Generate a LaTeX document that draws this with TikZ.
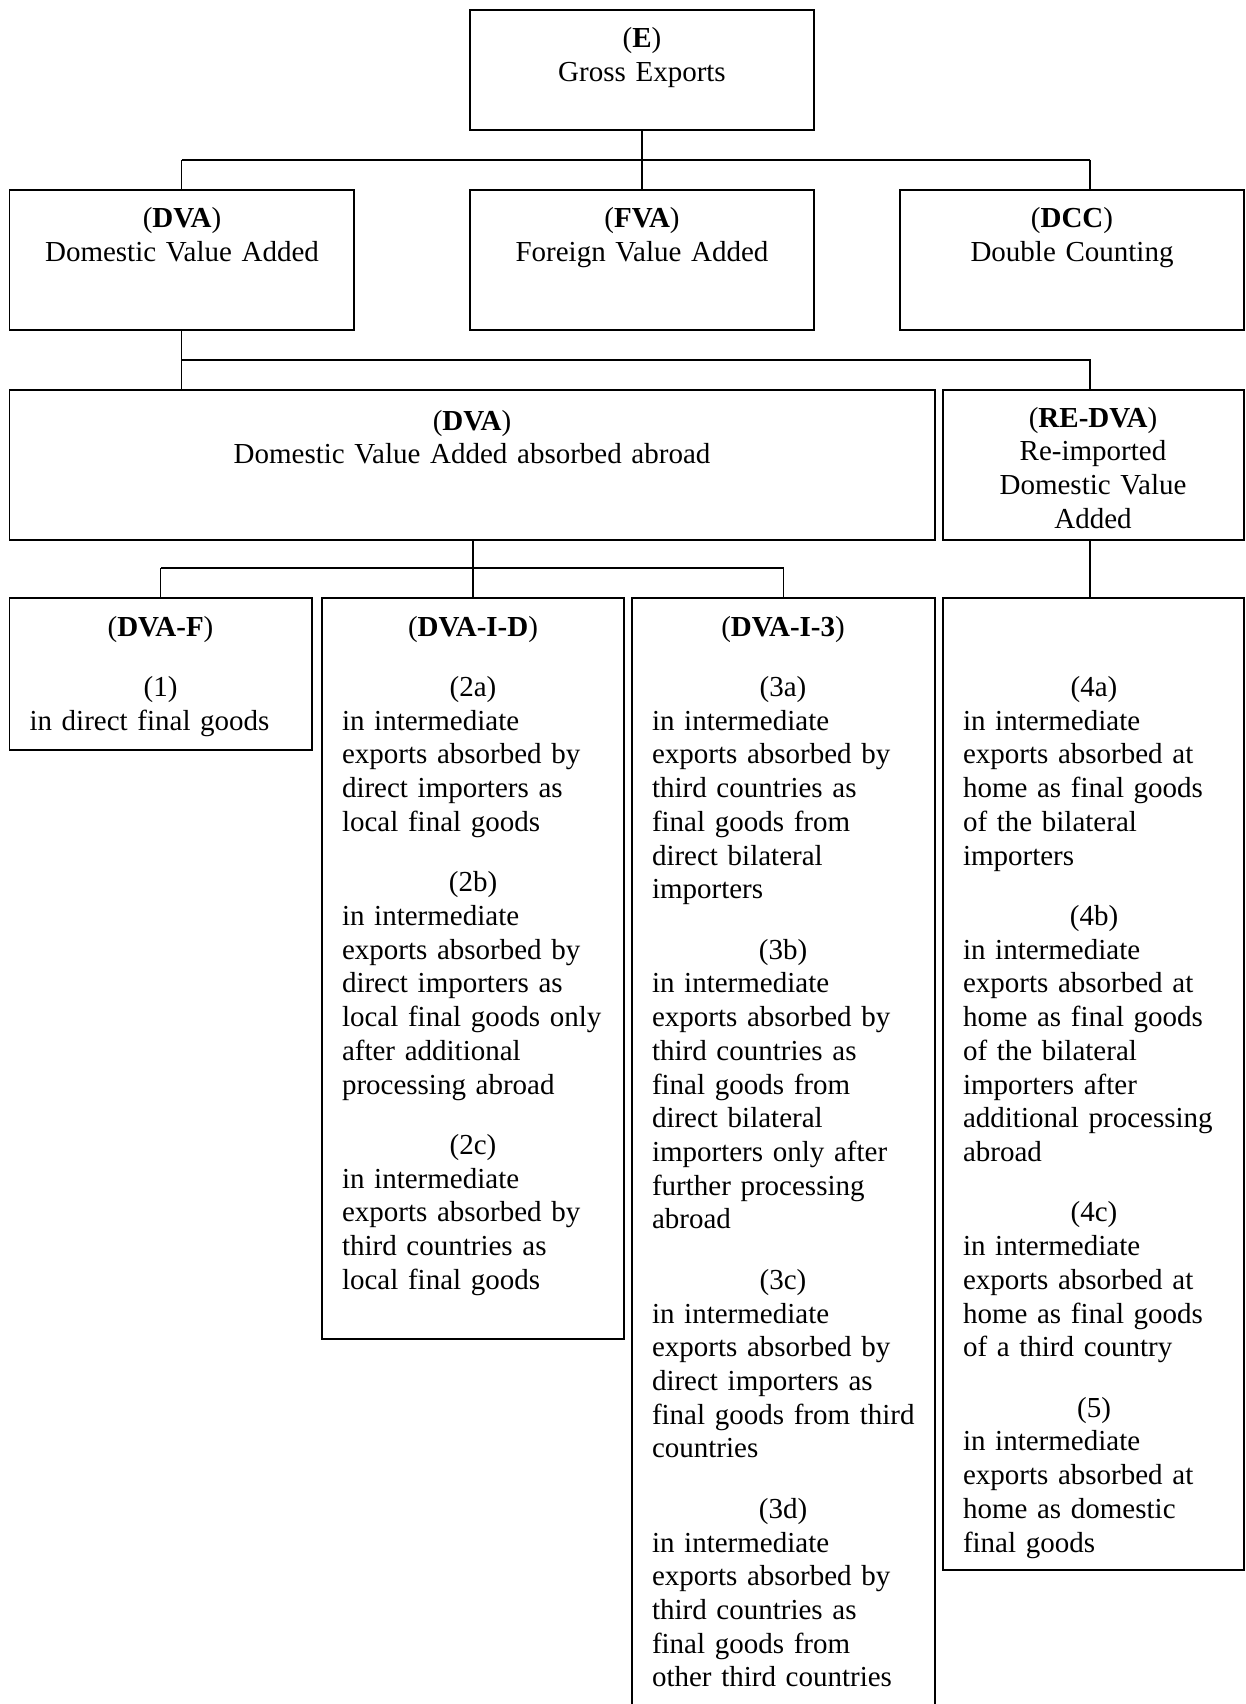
\documentclass[tikz,border=0pt]{standalone}
\usepackage{fontspec}
\setmainfont{Liberation Serif}
\newcommand\ctrline[1]{\makebox[262pt]{#1}}
\begin{document}
\begin{tikzpicture}[x=1pt,y=-1pt,
  box/.style={draw, line width=1.5pt, inner sep=0pt, outer sep=0pt, anchor=north west},
  txt/.style={anchor=base, inner sep=0pt, outer sep=0pt, font=\fontsize{29}{33.7}\selectfont},
  coltxt/.style={txt, text width=300pt, align=left},
  conn/.style={line width=1.3pt}]
\useasboundingbox (0,0) rectangle (1245,1704);
\clip (0,0) rectangle (1245,1704);
% boxes
\node[box, minimum width=344pt, minimum height=120pt] (E) at (470,10) {};
\node[box, minimum width=344.5pt, minimum height=140pt] (DVA) at (9.5,190) {};
\node[box, minimum width=344pt, minimum height=140pt] (FVA) at (470,190) {};
\node[box, minimum width=344pt, minimum height=140pt] (DCC) at (900,190) {};
\node[box, minimum width=925.5pt, minimum height=150pt] (ABR) at (9.5,390) {};
\node[box, minimum width=301pt, minimum height=150pt] (RE) at (943,390) {};
\node[box, minimum width=302.5pt, minimum height=152pt] (F) at (9.5,598) {};
\node[box, minimum width=302pt, minimum height=741pt] (ID) at (322,598) {};
\node[box, minimum width=303pt, minimum height=1200pt] (I3) at (632,598) {};
\node[box, minimum width=301pt, minimum height=972pt] (H) at (943,598) {};
% connectors
\coordinate (b1) at (0,160);
\coordinate (b2) at (0,360);
\coordinate (b3) at (0,568);
\coordinate (dccT) at ([xshift=18pt]DCC.north);
\draw[conn] (E.south) -- (E.south |- b1);
\draw[conn] (DVA.north |- b1) -- (dccT |- b1);
\draw[conn] (DVA.north |- b1) -- (DVA.north);
\draw[conn] (FVA.north |- b1) -- (FVA.north);
\draw[conn] (dccT |- b1) -- (dccT);
\draw[conn] (DVA.south) -- (DVA.south |- b2) -- (dccT |- b2) -- (dccT |- RE.north);
\draw[conn] (DVA.south |- b2) -- (DVA.south |- ABR.north);
\draw[conn] (ID.north |- ABR.south) -- (ID.north |- b3);
\draw[conn] (F.north |- b3) -- (I3.north |- b3);
\draw[conn] (F.north |- b3) -- (F.north);
\draw[conn] (ID.north |- b3) -- (ID.north);
\draw[conn] (I3.north |- b3) -- (I3.north);
\draw[conn] (dccT |- RE.south) -- (dccT |- H.north);
% texts
\node[txt, text width=330pt, align=center] (tE) at (642,48) {(\textbf{E})\\Gross Exports};
\node[txt, text width=330pt, align=center] (tDVA) at (182,228) {(\textbf{DVA})\\Domestic Value Added};
\node[txt, text width=330pt, align=center] (tFVA) at (642,228) {(\textbf{FVA})\\Foreign Value Added};
\node[txt, text width=330pt, align=center] (tDCC) at (1072,228) {(\textbf{DCC})\\Double Counting};
\node[txt, text width=900pt, align=center] (tABR) at (472,430) {(\textbf{DVA})\\Domestic Value Added absorbed abroad};
\node[txt, text width=280pt, align=center] (tRE) at (1093,427) {(\textbf{RE-DVA})\\Re-imported\\Domestic Value\\Added};
\node[coltxt] (tF) at (179.5,636) {\ctrline{(\textbf{DVA-F})}\\[26.8pt]\ctrline{(1)}\\in direct final goods};
\node[coltxt] (tID) at (492,636) {\ctrline{(\textbf{DVA-I-D})}\\[26.8pt]
\ctrline{(2a)}\\in intermediate\\exports absorbed by\\direct importers as\\local final goods\\[26.8pt]
\ctrline{(2b)}\\in intermediate\\exports absorbed by\\direct importers as\\local final goods only\\after additional\\processing abroad\\[26.8pt]
\ctrline{(2c)}\\in intermediate\\exports absorbed by\\third countries as\\local final goods};
\node[coltxt] (tI3) at (802,636) {\ctrline{(\textbf{DVA-I-3})}\\[26.8pt]
\ctrline{(3a)}\\in intermediate\\exports absorbed by\\third countries as\\final goods from\\direct bilateral\\importers\\[26.8pt]
\ctrline{(3b)}\\in intermediate\\exports absorbed by\\third countries as\\final goods from\\direct bilateral\\importers only after\\further processing\\abroad\\[26.8pt]
\ctrline{(3c)}\\in intermediate\\exports absorbed by\\direct importers as\\final goods from third\\countries\\[26.8pt]
\ctrline{(3d)}\\in intermediate\\exports absorbed by\\third countries as\\final goods from\\other third countries};
\node[coltxt] (tH) at (1113,696.5) {\ctrline{(4a)}\\in intermediate\\exports absorbed at\\home as final goods\\of the bilateral\\importers\\[26.8pt]
\ctrline{(4b)}\\in intermediate\\exports absorbed at\\home as final goods\\of the bilateral\\importers after\\additional processing\\abroad\\[26.8pt]
\ctrline{(4c)}\\in intermediate\\exports absorbed at\\home as final goods\\of a third country\\[26.8pt]
\ctrline{(5)}\\in intermediate\\exports absorbed at\\home as domestic\\final goods};
\end{tikzpicture}
\end{document}
